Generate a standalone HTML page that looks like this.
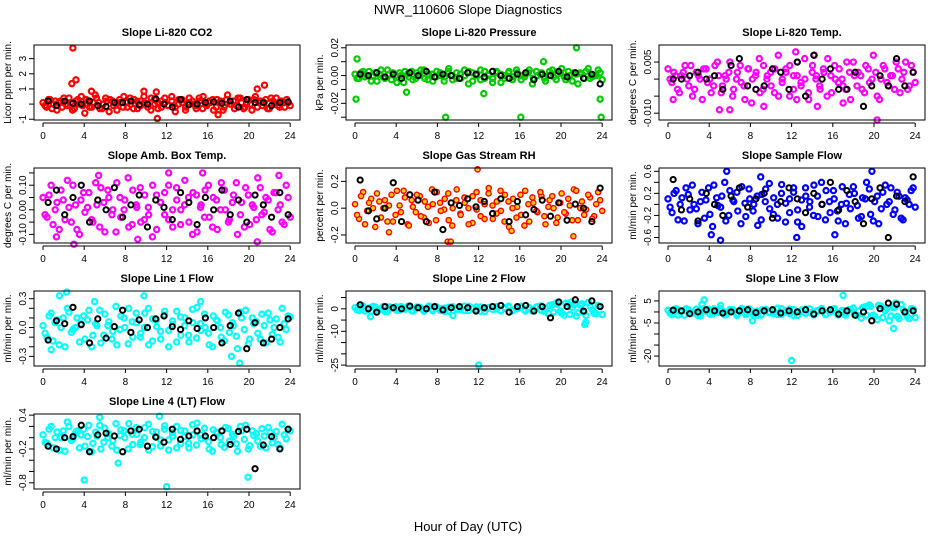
<!DOCTYPE html>
<html><head><meta charset="utf-8">
<style>
body{margin:0;background:#fff;}
svg{display:block;font-family:"Liberation Sans",sans-serif;}
</style></head>
<body>
<svg id="chart" width="936" height="540" viewBox="0 0 936 540" xmlns="http://www.w3.org/2000/svg">
<rect width="936" height="540" fill="#fff"/>
<text x="468" y="14" text-anchor="middle" font-size="13">NWR_110606  Slope Diagnostics</text>
<text x="468" y="531" text-anchor="middle" font-size="13">Hour of Day (UTC)</text>
<g id="panels"></g>
</svg>
<script>
const xTicks=[0,4,8,12,16,20,24];
// CO2
const co2Main=[0.1,-0.2,0.3,0.0,-0.4,0.2,0.4,-0.1,0.1,-0.3,0.3,0.5,-0.6,0.2,-0.2,0.6,0.1,-0.3,0.4,-0.5,0.2,0.0,0.3,-0.2,0.1,0.4,-0.3,0.2,-0.1,0.5,0.0,-0.4,0.3,0.1,-0.2,0.4,-0.1,0.2,-0.5,0.3,0.1,-0.2,0.4,0.0,-0.3,0.2,0.5,-0.1,0.1,-0.4,0.3,0.2,-0.2,0.6,0.0,-0.3,0.4,0.1,-0.2,0.3,-0.4,0.5,0.1,-0.1,0.3,-0.3,0.2,0.4,-0.2,0.1,0.3,-0.1];
const co2MainB=[-0.1,0.3,-0.3,0.2,0.1,-0.2,0.0,0.4,-0.4,0.2,0.0,-0.1,0.3,-0.2,0.1,0.4,-0.3,0.0,0.2,0.3,-0.1,-0.4,0.1,0.5,-0.2,0.0,0.3,-0.3,0.2,0.1,-0.2,0.4,0.0,-0.3,0.2,0.1,-0.1,0.5,-0.2,0.0,0.3,-0.4,0.1,0.2,-0.1,0.4,-0.3,0.0,0.2,0.3,-0.2,0.1,-0.4,0.3,0.0,0.2,-0.1,0.4,-0.3,0.1,0.0,0.3,-0.2,0.2,0.1,-0.3,0.4,0.0,-0.1,0.2,-0.2,0.1];
const co2Black=[0.2,-0.1,0.2,0.05,0.0,0.2,-0.1,-0.15,0.1,0.1,0.2,-0.05,0.0,0.35,0.0,-0.2,0.3,-0.05,0.0,0.1,0.15,0.05,0.2,-0.2,0.3,0.1,0.1,-0.1,0.1,0.15];
const co2OutX=[2.9,2.8,3.2,21.5,20.8,11.1,9.8,11.0,4.7,17.0];
const co2OutY=[3.7,1.35,1.6,1.25,1.0,-0.95,0.85,0.8,0.85,-0.7];
// Pressure
const prMain=[0.001,-0.002,0.003,0.000,-0.004,0.002,0.001,-0.001,0.004,-0.003,0.000,0.002,-0.005,0.001,0.003,-0.002,0.000,0.004,-0.003,0.001,-0.001,0.002,-0.004,0.003,0.000,-0.002,0.001,0.004,-0.006,0.002,0.000,-0.003,0.003,0.001,-0.002,0.002,-0.005,0.000,0.003,-0.001,0.002,-0.003,0.001,0.004,-0.002,0.000,0.002,-0.004,0.003,-0.001,0.001,0.005,-0.003,0.000,0.002,-0.006,0.001,0.003,-0.002,0.000,0.004,-0.003];
const prMainB=[-0.002,0.002,-0.001,0.003,0.000,-0.004,0.004,-0.002,0.001,0.002,-0.005,0.000,0.003,-0.001,-0.003,0.002,0.004,-0.002,0.001,-0.004,0.003,0.000,-0.001,0.005,-0.003,0.002,-0.002,0.000,0.003,-0.004,0.001,0.004,-0.002,0.000,-0.005,0.003,0.001,-0.002,0.002,-0.003,0.004,0.000,-0.001,0.002,-0.006,0.003,0.001,-0.002,0.000,0.004,-0.003,0.002,-0.001,0.003,-0.004,0.001,0.002,-0.002,0.005,-0.001,0.000,0.002];
const prBlack=[0.001,0.000,0.002,-0.001,0.001,-0.002,0.002,0.000,0.003,-0.001,0.001,0.000,-0.002,0.002,0.001,-0.001,0.003,0.000,-0.002,0.001,0.002,-0.003,0.001,0.000,0.003,-0.001,0.002,-0.002,0.001,-0.006];
const prOutX=[0.2,0.1,21.5,23.9,16.1,8.8,23.8,5.0,12.5,18.3];
const prOutY=[0.012,-0.017,0.020,-0.030,-0.030,-0.030,-0.017,-0.012,-0.013,0.010];
// Li-820 Temp
const tpMain=[0.003,-0.001,0.001,-0.004,0.002,0.000,0.004,-0.003,0.001,-0.006,0.003,0.000,-0.002,0.005,-0.004,0.001,0.002,-0.005,0.000,0.004,-0.002,0.003,-0.007,0.001,0.006,-0.003,0.000,0.002,-0.004,0.007,-0.001,0.003,-0.005,0.001,0.005,-0.002,0.000,-0.006,0.004,0.001,-0.003,0.002,0.006,-0.004,0.000,0.003,-0.002,0.005,-0.006,0.001,0.002,-0.003,0.004,-0.001,0.007,-0.005,0.000,0.003,-0.002,0.001,0.005,-0.004,0.002,-0.003,0.004,-0.001];
const tpMainB=[0.000,0.002,-0.003,0.001,0.004,-0.002,-0.005,0.002,0.000,0.003,-0.001,-0.004,0.004,0.001,-0.002,0.000,0.005,-0.003,0.002,-0.001,-0.006,0.003,0.000,0.002,-0.004,0.004,0.001,-0.002,0.003,-0.005,0.000,0.002,0.004,-0.003,0.001,-0.001,0.006,-0.004,0.002,0.000,-0.002,0.003,-0.005,0.001,0.004,-0.001,0.000,-0.003,0.002,0.005,-0.002,0.001,-0.004,0.003,0.000,0.002,-0.006,0.004,-0.001,0.001,-0.003,0.003,0.000,0.005,-0.002,0.002];
const tpBlack=[0.000,0.000,0.001,0.002,0.000,0.001,-0.003,0.004,0.006,-0.002,-0.003,-0.002,0.003,0.002,-0.003,0.005,-0.005,0.007,0.000,0.003,-0.003,-0.003,0.002,-0.008,-0.002,0.001,-0.002,0.006,-0.002,0.002];
const tpOutX=[5.0,6.0,12.4,14.2,20.3,12.5,9.3,14.5,0.5,17.0];
const tpOutY=[-0.009,-0.009,0.008,0.007,-0.012,-0.006,-0.008,-0.008,-0.006,-0.007];
// Amb Box Temp
const abMain=[0.05,-0.03,0.10,0.00,-0.08,0.04,0.12,-0.05,0.02,-0.10,0.07,0.01,-0.04,0.11,-0.07,0.03,0.08,-0.02,-0.09,0.05,0.00,0.13,-0.06,0.02,0.09,-0.04,0.01,-0.11,0.06,0.03,-0.02,0.10,-0.07,0.04,0.00,0.12,-0.05,0.07,-0.09,0.02,0.08,-0.03,0.05,-0.08,0.11,0.00,-0.04,0.06,-0.10,0.03,0.09,-0.06,0.01,0.13,-0.02,0.05,-0.08,0.07,0.00,-0.05,0.10,-0.03];
const abMainB=[-0.02,0.06,-0.06,0.03,0.08,-0.04,0.01,0.10,-0.08,0.04,-0.01,0.07,-0.05,0.02,0.09,-0.09,0.05,0.00,0.11,-0.03,0.04,-0.07,0.08,0.01,-0.05,0.06,-0.02,0.10,-0.08,0.03,0.07,-0.04,0.00,0.09,-0.06,0.02,0.05,-0.10,0.06,0.01,-0.03,0.10,-0.07,0.04,0.00,0.08,-0.05,0.03,0.11,-0.02,-0.07,0.06,0.02,-0.04,0.09,-0.01,0.04,-0.09,0.07,0.02,-0.06,0.05];
const abBlack=[0.03,0.08,-0.02,0.05,0.10,-0.05,0.04,0.00,0.09,-0.03,0.02,0.06,-0.07,0.04,0.01,-0.04,0.07,0.03,-0.06,0.05,0.00,0.08,-0.02,0.04,-0.05,0.06,0.02,-0.03,0.07,-0.02];
const abOutX=[3.0,1.3,12.2,15.5,9.2,20.8,22.9,5.4];
const abOutY=[-0.14,-0.11,0.15,0.15,-0.12,-0.13,0.14,0.14];
// Gas Stream RH
const rhMain=[0.03,-0.08,0.12,-0.02,0.07,-0.14,0.05,0.00,-0.10,0.10,-0.05,0.02,0.13,-0.12,0.06,-0.03,0.09,-0.07,0.01,0.14,-0.09,0.04,-0.01,0.11,-0.13,0.06,-0.04,0.08,0.00,-0.11,0.12,-0.06,0.03,0.15,-0.08,0.05,-0.02,0.10,-0.14,0.07,0.01,-0.05,0.13,-0.10,0.04,-0.03,0.09,-0.12,0.06,0.00,-0.07,0.11,-0.04,0.02,0.14,-0.09,0.05,-0.01,0.08,-0.06,0.12,-0.02];
const rhMainB=[-0.05,0.09,-0.12,0.04,0.00,0.11,-0.07,0.06,0.02,-0.10,0.13,-0.03,0.08,-0.13,0.01,0.10,-0.06,0.05,-0.11,0.03,0.12,-0.02,0.07,-0.09,0.00,0.14,-0.05,0.04,-0.12,0.09,-0.01,0.06,-0.08,0.11,0.02,-0.04,0.13,-0.10,0.05,0.00,-0.07,0.10,-0.13,0.03,0.08,-0.02,0.12,-0.06,0.01,0.09,-0.11,0.04,-0.03,0.07,-0.09,0.13,0.00,-0.05,0.10,-0.08,0.03,0.06];
const rhBlack=[0.21,-0.02,-0.08,0.00,0.19,-0.10,0.10,0.06,-0.10,0.12,-0.16,0.04,0.02,0.07,0.01,0.05,-0.04,0.07,-0.10,0.05,-0.05,-0.01,0.06,-0.06,0.04,-0.09,0.03,0.00,-0.10,0.15];
const rhOutX=[9.0,9.3,11.9,3.3,15.2,21.2];
const rhOutY=[-0.25,-0.25,0.29,-0.18,-0.17,-0.21];
// Sample Flow
const sfMain=[0.10,-0.15,0.25,0.00,-0.30,0.18,0.35,-0.08,0.05,-0.25,0.30,-0.40,0.12,-0.05,0.40,-0.20,0.08,0.22,-0.35,0.02,0.28,-0.12,0.15,-0.28,0.05,0.38,-0.18,0.00,0.20,-0.32,0.10,0.30,-0.10,-0.40,0.15,0.05,0.35,-0.22,0.00,0.25,-0.15,0.10,-0.30,0.32,0.02,-0.08,0.20,-0.25,0.12,0.40,-0.18,0.05,-0.35,0.22,0.00,0.30,-0.10,0.15,-0.28,0.08,0.25,-0.05];
const sfMainB=[-0.05,0.20,-0.28,0.12,0.30,-0.10,0.00,-0.35,0.22,0.08,-0.18,0.35,-0.02,0.15,-0.30,0.25,0.05,-0.12,0.32,-0.22,0.10,0.00,-0.38,0.18,0.28,-0.08,0.12,-0.25,0.36,0.02,-0.15,0.22,-0.32,0.08,0.30,-0.05,-0.20,0.15,0.40,-0.28,0.05,0.25,-0.12,0.00,-0.35,0.18,0.32,-0.02,-0.22,0.10,0.28,-0.30,0.15,-0.08,0.35,0.05,-0.18,0.22,-0.25,0.12,0.00,0.30];
const sfBlack=[0.45,-0.10,0.10,-0.30,0.20,0.00,-0.20,0.15,0.30,-0.05,0.10,0.20,-0.25,0.05,0.30,0.10,-0.15,0.20,0.00,0.40,-0.10,0.25,0.05,-0.35,0.10,0.30,-0.60,0.15,0.05,0.50];
const sfOutX=[5.1,5.7,12.5,4.2,19.8,9.0,16.2];
const sfOutY=[-0.65,0.60,-0.60,-0.55,0.60,0.50,-0.55];
// Line 1 Flow
const l1Main=[0.02,-0.10,0.15,0.05,-0.18,0.10,0.20,-0.05,0.00,-0.15,0.12,0.08,-0.20,0.04,0.18,-0.08,0.02,-0.12,0.22,-0.02,0.10,-0.17,0.06,0.15,-0.10,0.00,0.20,-0.14,0.08,-0.04,0.13,-0.20,0.03,0.17,-0.08,0.10,-0.15,0.05,0.21,-0.03,0.00,-0.18,0.12,0.07,-0.10,0.16,-0.05,0.02,-0.22,0.10,0.18,-0.12,0.04,-0.06,0.14,-0.16,0.08,0.00,-0.10,0.20,-0.02,0.11];
const l1MainB=[-0.06,0.12,-0.14,0.08,0.00,-0.20,0.16,-0.02,0.10,0.04,-0.12,0.18,-0.08,0.02,-0.16,0.14,0.06,-0.04,-0.18,0.12,0.00,0.20,-0.10,0.05,-0.06,0.15,-0.18,0.09,0.01,-0.12,0.17,-0.03,0.07,-0.15,0.11,0.02,-0.08,0.19,-0.11,0.04,0.14,-0.06,-0.20,0.08,0.00,-0.14,0.13,0.05,-0.09,0.16,-0.02,-0.17,0.10,0.06,-0.12,0.02,0.15,-0.07,0.09,-0.15,0.04,0.12];
const l1Black=[-0.13,0.07,0.04,0.21,0.03,-0.16,0.09,-0.11,0.01,0.18,-0.05,0.08,0.00,0.09,0.12,0.01,-0.02,0.07,-0.01,0.10,0.00,-0.16,0.02,0.15,-0.22,0.05,-0.16,-0.12,0.00,0.09];
const l1OutX=[2.3,1.6,9.8,18.3,19.1,0.8,15.3,5.0];
const l1OutY=[0.37,0.33,0.33,-0.30,-0.37,-0.23,0.27,0.27];
// Line 2 Flow
const l2Main=[0.5,-0.8,1.2,0.0,-1.0,0.8,-0.3,1.0,-1.2,0.4,0.9,-0.6,0.2,1.1,-0.9,0.0,0.7,-1.1,0.5,-0.2,1.0,-0.7,0.3,-1.0,0.8,0.0,-0.5,1.2,-0.8,0.4,0.9,-1.1,0.1,0.6,-0.4,1.0,-0.9,0.2,0.7,-0.6,0.0,1.1,-1.0,0.5,-0.3,0.9,-0.8,0.3,1.5,-1.5,2.0,-2.0,2.5,-2.5,1.8,-1.8,2.2,-3.0,1.0,-2.0,1.5,-2.5];
const l2MainB=[-0.5,0.8,-1.0,0.3,1.1,-0.4,0.0,-1.2,0.9,0.2,-0.7,1.0,-0.2,0.5,-1.0,0.8,0.1,-0.6,1.2,-0.9,0.4,0.0,-1.1,0.7,0.9,-0.3,0.2,-0.8,1.1,0.0,-0.5,0.8,-1.2,0.3,1.0,-0.1,-0.7,0.5,1.2,-0.9,0.2,0.6,-0.4,0.0,-1.0,0.8,1.3,-1.2,-2.2,1.8,2.6,-1.0,-2.8,2.0,0.5,-3.2,1.6,-1.5,2.8,-0.5,-2.2,1.0];
const l2Black=[1.8,0.0,-1.5,1.0,0.5,0.0,1.2,0.5,0.0,1.0,-0.5,0.5,1.0,0.5,-1.0,0.5,1.0,1.5,-1.5,1.0,1.5,-1.0,1.0,-4.0,3.0,1.0,4.0,-1.0,3.5,1.0];
const l2OutX=[12.0,22.3,22.4,21.0,21.4,1.5,9.5];
const l2OutY=[-25.0,-7.0,-6.0,3.0,2.5,-3.5,-3.0];
// Line 3 Flow
const l3Main=[0.8,-1.2,1.5,0.0,-1.5,1.0,-0.5,1.3,-1.8,0.6,1.2,-0.9,0.3,1.6,-1.3,0.0,1.0,-1.6,0.7,-0.3,1.4,-1.0,0.4,-1.4,1.1,0.0,-0.7,1.7,-1.2,0.5,1.3,-1.6,0.2,0.9,-0.6,1.4,-1.3,0.3,1.0,-0.9,0.0,1.5,-1.4,0.7,-0.4,1.2,-1.1,0.4,2.0,-1.5,2.5,-2.0,3.0,-2.5,1.5,-1.8,2.2,-3.0,1.0,-2.0,1.5,-2.5];
const l3MainB=[-0.6,1.1,-1.4,0.4,1.5,-0.5,0.0,-1.6,1.2,0.3,-1.0,1.4,-0.3,0.7,-1.3,1.1,0.1,-0.8,1.6,-1.2,0.5,0.0,-1.5,0.9,1.2,-0.4,0.3,-1.1,1.5,0.0,-0.7,1.1,-1.6,0.4,1.3,-0.2,-0.9,0.7,1.6,-1.2,0.3,0.8,-0.5,0.0,-1.4,1.1,1.8,-1.6,-2.8,2.4,3.2,-1.4,-3.5,2.6,0.6,-4.0,2.0,-2.0,3.4,-0.6,-3.0,1.2];
const l3Black=[0.8,0.5,-0.8,0.0,1.0,0.5,-0.5,0.0,0.5,1.0,-0.3,0.5,1.0,-0.5,0.5,0.0,1.0,-1.0,0.5,1.0,-1.0,0.5,-1.5,0.0,-4.0,1.5,4.0,3.5,0.0,0.5];
const l3OutX=[12.0,17.0,3.5,3.3,21.9,22.1,5.1,8.2];
const l3OutY=[-22.0,7.5,5.5,3.5,-7.5,4.0,3.0,-4.0];
// Line 4 Flow
const l4Main=[0.05,-0.10,0.20,0.00,-0.22,0.12,0.28,-0.05,0.08,-0.18,0.15,0.02,-0.25,0.10,0.22,-0.08,0.00,-0.15,0.25,0.04,0.12,-0.20,0.06,0.18,-0.12,0.00,0.24,-0.16,0.10,-0.04,0.15,-0.22,0.03,0.20,-0.10,0.12,-0.18,0.05,0.26,-0.02,0.00,-0.20,0.14,0.08,-0.12,0.18,-0.06,0.02,-0.24,0.12,0.22,-0.14,0.04,-0.06,0.16,-0.18,0.10,0.00,-0.12,0.24,-0.02,0.12];
const l4MainB=[-0.08,0.15,-0.18,0.10,0.00,-0.24,0.20,-0.02,0.12,0.05,-0.15,0.22,-0.10,0.03,-0.20,0.17,0.07,-0.05,-0.22,0.14,0.00,0.25,-0.12,0.06,-0.08,0.18,-0.22,0.11,0.01,-0.15,0.21,-0.04,0.09,-0.18,0.13,0.02,-0.10,0.23,-0.13,0.05,0.17,-0.07,-0.24,0.10,0.00,-0.17,0.16,0.06,-0.11,0.20,-0.03,-0.20,0.12,0.07,-0.15,0.03,0.18,-0.09,0.11,-0.18,0.05,0.15];
const l4Black=[-0.15,-0.20,0.00,0.02,0.22,-0.25,0.05,0.08,0.03,-0.25,0.12,0.15,-0.15,0.01,-0.08,0.15,-0.03,0.03,0.12,0.03,0.00,0.12,-0.12,0.11,0.15,-0.55,-0.13,0.02,-0.20,0.15];
const l4OutX=[12.0,4.0,19.9,11.3,5.5,7.3];
const l4OutY=[-0.87,-0.75,-0.70,0.38,0.36,-0.45];

const panels=[
 {name:'co2',title:'Slope Li-820 CO2',yl:'Licor ppm per min.',c:0,r:0,y0:-1.05,y1:3.9,ticks:[-1,0,1,2,3],labs:['-1','','1','2','3'],col:'#ff0000',fill:'none',main:co2Main,mainB:co2MainB,blk:co2Black,ox:co2OutX,oy:co2OutY},
 {name:'pressure',title:'Slope Li-820 Pressure',yl:'kPa per min.',c:1,r:0,y0:-0.032,y1:0.022,ticks:[-0.03,-0.02,-0.01,0,0.01,0.02],labs:['','-0.02','','0.00','','0.02'],col:'#00cc00',fill:'none',main:prMain,mainB:prMainB,blk:prBlack,ox:prOutX,oy:prOutY},
 {name:'temp',title:'Slope Li-820 Temp.',yl:'degrees C per min.',c:2,r:0,y0:-0.012,y1:0.010,ticks:[-0.01,-0.005,0,0.005],labs:['-0.010','','','0.005'],col:'#ff00ff',fill:'none',main:tpMain,mainB:tpMainB,blk:tpBlack,ox:tpOutX,oy:tpOutY},
 {name:'amb-box-temp',title:'Slope Amb. Box Temp.',yl:'degrees C per min.',c:0,r:1,y0:-0.135,y1:0.17,ticks:[-0.1,-0.05,0,0.05,0.1,0.15],labs:['-0.10','','0.00','','0.10',''],col:'#ff00ff',fill:'none',main:abMain,mainB:abMainB,blk:abBlack,ox:abOutX,oy:abOutY},
 {name:'gas-stream-rh',title:'Slope Gas Stream RH',yl:'percent per min.',c:1,r:1,y0:-0.26,y1:0.30,ticks:[-0.2,0,0.2],labs:['-0.2','0.0','0.2'],col:'#ff0000',fill:'#ffcc00',main:rhMain,mainB:rhMainB,blk:rhBlack,ox:rhOutX,oy:rhOutY},
 {name:'sample-flow',title:'Slope Sample Flow',yl:'ml/min per min.',c:2,r:1,y0:-0.7,y1:0.66,ticks:[-0.6,-0.4,-0.2,0,0.2,0.4,0.6],labs:['-0.6','','-0.2','','0.2','','0.6'],col:'#0000ff',fill:'none',main:sfMain,mainB:sfMainB,blk:sfBlack,ox:sfOutX,oy:sfOutY},
 {name:'line1-flow',title:'Slope Line 1 Flow',yl:'ml/min per min.',c:0,r:2,y0:-0.4,y1:0.38,ticks:[-0.3,-0.2,-0.1,0,0.1,0.2,0.3],labs:['-0.3','','','0.0','','','0.3'],col:'#00ffff',fill:'none',main:l1Main,mainB:l1MainB,blk:l1Black,ox:l1OutX,oy:l1OutY},
 {name:'line2-flow',title:'Slope Line 2 Flow',yl:'ml/min per min.',c:1,r:2,y0:-25.4,y1:7.9,ticks:[-25,-20,-15,-10,-5,0,5],labs:['-25','','','-10','','0',''],col:'#00ffff',fill:'none',main:l2Main,mainB:l2MainB,blk:l2Black,ox:l2OutX,oy:l2OutY},
 {name:'line3-flow',title:'Slope Line 3 Flow',yl:'ml/min per min.',c:2,r:2,y0:-24.5,y1:9.5,ticks:[-20,-15,-10,-5,0,5],labs:['-20','','','-5','','5'],col:'#00ffff',fill:'none',main:l3Main,mainB:l3MainB,blk:l3Black,ox:l3OutX,oy:l3OutY},
 {name:'line4-flow',title:'Slope Line 4 (LT) Flow',yl:'ml/min per min.',c:0,r:3,y0:-0.91,y1:0.42,ticks:[-0.8,-0.6,-0.4,-0.2,0,0.2,0.4],labs:['-0.8','','','-0.2','','','0.4'],col:'#00ffff',fill:'none',main:l4Main,mainB:l4MainB,blk:l4Black,ox:l4OutX,oy:l4OutY}
];
const NS='http://www.w3.org/2000/svg';
const colX0=[43,355,668], rowTop=[45,168,291,414], H=75, PXH=10.3;
const root=document.getElementById('panels');
function mk(tag,attrs,parent){const e=document.createElementNS(NS,tag);for(const k in attrs)e.setAttribute(k,attrs[k]);parent.appendChild(e);return e;}
panels.forEach(p=>{
 const x0=colX0[p.c], top=rowTop[p.r], bx=x0-9, bw=266;
 const xs=h=>x0+h*PXH;
 const ys=v=>top+(p.y1-v)/(p.y1-p.y0)*H;
 const g=mk('g',{},root);
 
 
 const t=mk('text',{x:bx+bw/2,y:top-9,'text-anchor':'middle','font-size':11,'font-weight':'bold'},g);t.textContent=p.title;
 
 
 const cg=mk('g',{},g);
 
 
 const sw=p.fill==='none'?2.2:1.4;
 const n=p.main.length;
 p.main.forEach((v,i)=>{const c=mk('circle',{cx:xs(i*24/(n-1)),cy:ys(v),r:2.6,fill:p.fill,stroke:p.col,'stroke-width':sw},cg);
  
  });
 const nb=p.mainB.length;
 p.mainB.forEach((v,i)=>{const c=mk('circle',{cx:xs(0.2+i*23.6/(nb-1)),cy:ys(v),r:2.6,fill:p.fill,stroke:p.col,'stroke-width':sw},cg);
  
  });
 p.ox.forEach((h,i)=>{const c=mk('circle',{cx:xs(h),cy:ys(p.oy[i]),r:2.6,fill:p.fill,stroke:p.col,'stroke-width':sw},cg);
  
  });
 const m=p.blk.length;
 p.blk.forEach((v,i)=>{const c=mk('circle',{cx:xs(0.5+i*23.3/(m-1)),cy:ys(v),r:2.6,fill:'none',stroke:'#000','stroke-width':2},cg);
  
  });
 const box=mk('rect',{x:bx,y:top,width:bw,height:H,fill:'none',stroke:'#000','stroke-width':1},g);
 
 
 const xa=mk('g',{},g);
 
 
 mk('line',{x1:xs(0),x2:xs(24),y1:top+H+3,y2:top+H+3,stroke:'#000'},xa);
 xTicks.forEach(h=>{mk('line',{x1:xs(h),x2:xs(h),y1:top+H+3,y2:top+H+7,stroke:'#000'},xa);
  const l=mk('text',{x:xs(h),y:top+H+19,'text-anchor':'middle','font-size':10},xa);l.textContent=h;});
 const ya=mk('g',{},g);
 
 
 p.ticks.forEach((v,i)=>{const y=ys(v);mk('line',{x1:bx-5,x2:bx,y1:y,y2:y,stroke:'#000'},ya);
  if(p.labs[i]){const l=mk('text',{x:bx-8,y:y,'text-anchor':'middle','font-size':10,transform:`rotate(-90 ${bx-8} ${y})`},ya);l.textContent=p.labs[i];}});
 const yc=top+H/2, yx=bx-23;
 const yt=mk('text',{x:yx,y:yc,'text-anchor':'middle','font-size':10,transform:`rotate(-90 ${yx} ${yc})`},g);yt.textContent=p.yl;
 
 
});
</script>
</body></html>
